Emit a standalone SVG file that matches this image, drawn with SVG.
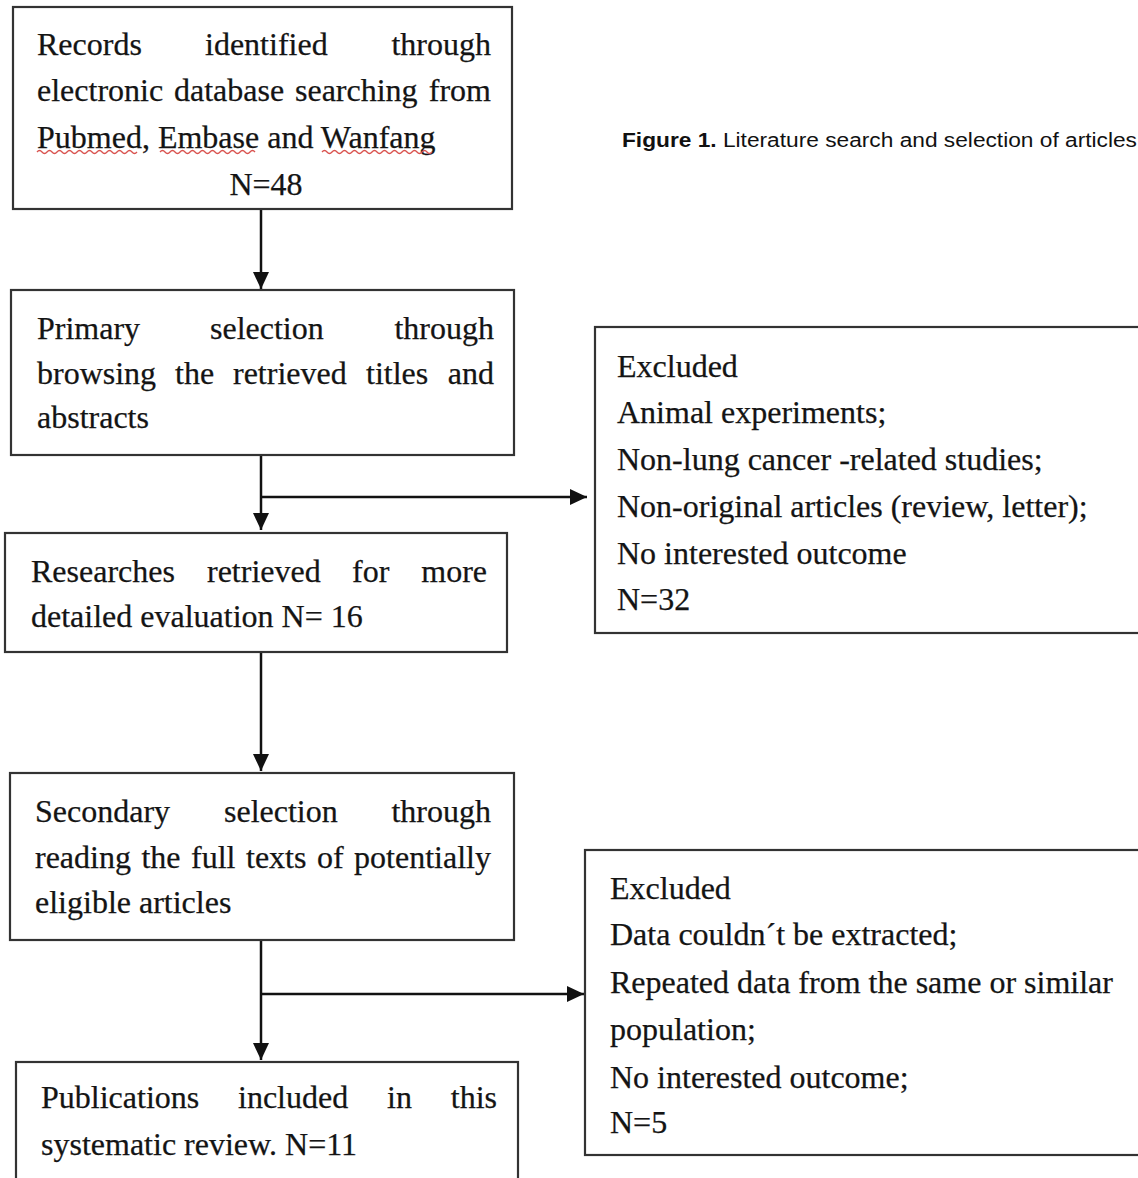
<svg xmlns="http://www.w3.org/2000/svg" width="1138" height="1178" viewBox="0 0 1138 1178">
<defs>
<style>
.box{fill:#fff;stroke:#333;stroke-width:2.2}
.t{font-family:"Liberation Serif","Times New Roman",serif;font-size:32px;fill:#141414;stroke:#141414;stroke-width:0.25}
.e{text-anchor:end}
.m{text-anchor:middle}
.con{stroke:#111;stroke-width:2.5;fill:none}
.sq{stroke:#d9534f;stroke-width:1.3;fill:none}
.cap{font-family:"Liberation Sans",Arial,sans-serif;font-size:19.5px;fill:#111}
</style>
<marker id="ah" markerUnits="userSpaceOnUse" markerWidth="17" markerHeight="16" refX="17" refY="8" orient="auto">
<path d="M0,0 L17,8 L0,16 z" fill="#111"/>
</marker>
</defs>
<rect width="1138" height="1178" fill="#fff"/>

<g id="connectors">
<line class="con" x1="261" y1="209" x2="261" y2="289" marker-end="url(#ah)"/>
<line class="con" x1="261" y1="455" x2="261" y2="530" marker-end="url(#ah)"/>
<line class="con" x1="261" y1="497" x2="587" y2="497" marker-end="url(#ah)"/>
<line class="con" x1="261" y1="652" x2="261" y2="771" marker-end="url(#ah)"/>
<line class="con" x1="261" y1="940" x2="261" y2="1060" marker-end="url(#ah)"/>
<line class="con" x1="261" y1="994" x2="584" y2="994" marker-end="url(#ah)"/>
</g>

<g id="records">
<rect class="box" x="13" y="7" width="499" height="202"/>
<text class="t" x="37" y="55">Records</text>
<text class="t" x="205" y="55">identified</text>
<text class="t e" x="491" y="55">through</text>
<text class="t" x="37" y="101">electronic</text>
<text class="t" x="174" y="101">database</text>
<text class="t" x="295" y="101">searching</text>
<text class="t e" x="491" y="101">from</text>
<text class="t" x="37" y="148">Pubmed, Embase and Wanfang</text>
<path class="sq" d="M37,152 q2.5,-3 5,0 t5,0 t5,0 t5,0 t5,0 t5,0 t5,0 t5,0 t5,0 t5,0 t5,0 t5,0 t5,0 t5,0 t5,0 t5,0 t5,0 t5,0 t5,0 t5,0"/>
<path class="sq" d="M160,152 q2.5,-3 5,0 t5,0 t5,0 t5,0 t5,0 t5,0 t5,0 t5,0 t5,0 t5,0 t5,0 t5,0 t5,0 t5,0 t5,0 t5,0 t5,0 t5,0 t5,0"/>
<path class="sq" d="M322,152 q2.5,-3 5,0 t5,0 t5,0 t5,0 t5,0 t5,0 t5,0 t5,0 t5,0 t5,0 t5,0 t5,0 t5,0 t5,0 t5,0 t5,0 t5,0 t5,0 t5,0 t5,0 t5,0 t5,0"/>
<text class="t m" x="266" y="195">N=48</text>
</g>

<g id="caption">
<text class="cap" x="622" y="147" textLength="515" lengthAdjust="spacingAndGlyphs"><tspan font-weight="bold">Figure 1.</tspan> Literature search and selection of articles</text>
</g>

<g id="primary">
<rect class="box" x="11" y="290" width="503" height="165"/>
<text class="t" x="37" y="339">Primary</text>
<text class="t" x="210" y="339">selection</text>
<text class="t e" x="494" y="339">through</text>
<text class="t" x="37" y="384">browsing</text>
<text class="t" x="175" y="384">the</text>
<text class="t" x="233" y="384">retrieved</text>
<text class="t" x="366" y="384">titles</text>
<text class="t e" x="494" y="384">and</text>
<text class="t" x="37" y="428">abstracts</text>
</g>

<g id="excluded1">
<rect class="box" x="595" y="327" width="560" height="306"/>
<text class="t" x="617" y="377">Excluded</text>
<text class="t" x="617" y="423">Animal experiments;</text>
<text class="t" x="617" y="470">Non-lung cancer -related studies;</text>
<text class="t" x="617" y="517">Non-original articles (review, letter);</text>
<text class="t" x="617" y="564">No interested outcome</text>
<text class="t" x="617" y="610">N=32</text>
</g>

<g id="researches">
<rect class="box" x="5" y="533" width="502" height="119"/>
<text class="t" x="31" y="582">Researches</text>
<text class="t" x="207" y="582">retrieved</text>
<text class="t" x="352" y="582">for</text>
<text class="t e" x="487" y="582">more</text>
<text class="t" x="31" y="627">detailed evaluation N= 16</text>
</g>

<g id="secondary">
<rect class="box" x="10" y="773" width="504" height="167"/>
<text class="t" x="35" y="822">Secondary</text>
<text class="t" x="224" y="822">selection</text>
<text class="t e" x="491" y="822">through</text>
<text class="t" x="35" y="868" word-spacing="2.5">reading the full texts of potentially</text>
<text class="t" x="35" y="913">eligible articles</text>
</g>

<g id="excluded2">
<rect class="box" x="585" y="850" width="570" height="305"/>
<text class="t" x="610" y="899">Excluded</text>
<text class="t" x="610" y="945">Data couldn´t be extracted;</text>
<text class="t" x="610" y="993">Repeated data from the same or similar</text>
<text class="t" x="610" y="1040">population;</text>
<text class="t" x="610" y="1088">No interested outcome;</text>
<text class="t" x="610" y="1133">N=5</text>
</g>

<g id="publications">
<rect class="box" x="16" y="1062" width="502" height="140"/>
<text class="t" x="41" y="1108">Publications</text>
<text class="t" x="238" y="1108">included</text>
<text class="t" x="387" y="1108">in</text>
<text class="t e" x="497" y="1108">this</text>
<text class="t" x="41" y="1155">systematic review. N=11</text>
</g>
</svg>
